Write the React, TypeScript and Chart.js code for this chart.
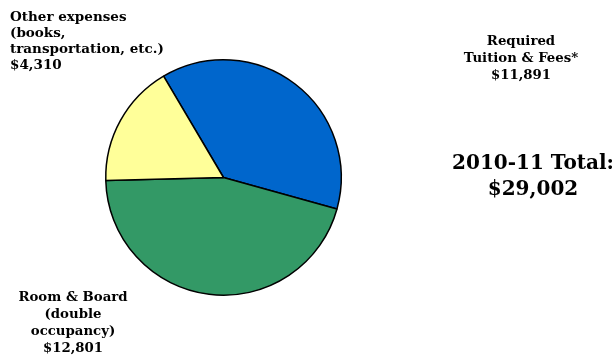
import React, { useEffect, useRef } from "react";
import { Chart, registerables } from "chart.js";

Chart.register(...registerables);

// Slice categories (clockwise from the upper-left boundary)
const categories = ["Required Tuition & Fees*", "Room & Board (double occupancy)", "Other expenses (books, transportation, etc.)"];
// Slice shares as drawn in the picture (percent of circle)
const sliceShares = [37.8, 45.3, 16.9];
// Amounts printed in the labels
const amounts = ["$11,891", "$12,801", "$4,310"];
const totalLabel = ["2010-11 Total:", "$29,002"];
const colors = ["#0066CC", "#339966", "#FFFF99"];

const labelPlugin = {
  id: "costLabels",
  afterDraw(chart: any) {
    const ctx = chart.ctx as CanvasRenderingContext2D;
    ctx.save();
    ctx.fillStyle = "#000";
    ctx.textBaseline = "alphabetic";
    const font = (s: number) => `bold ${s}px "DejaVu Serif", Georgia, serif`;

    // Other expenses (top-left, left aligned)
    ctx.font = font(13.5);
    ctx.textAlign = "left";
    const other = ["Other expenses", "(books,", "transportation, etc.)", amounts[2]];
    other.forEach((t, i) => ctx.fillText(t, 10, 20.5 + i * 16));

    // Tuition (top-right, centered)
    ctx.font = font(13.3);
    ctx.textAlign = "center";
    const tuition = ["Required", "Tuition & Fees*", amounts[0]];
    tuition.forEach((t, i) => ctx.fillText(t, 521, 45 + i * 17));

    // Room & Board (bottom-left, centered)
    ctx.font = font(13.3);
    const room = ["Room & Board", "(double", "occupancy)", amounts[1]];
    room.forEach((t, i) => ctx.fillText(t, 73, 301 + i * 17));

    // Total
    ctx.font = font(20);
    totalLabel.forEach((t, i) => ctx.fillText(t, 533, 169 + i * 26));
    ctx.restore();
  },
};

export default function App() {
  const ref = useRef<HTMLCanvasElement | null>(null);
  useEffect(() => {
    if (!ref.current) return;
    const chart = new Chart(ref.current, {
      type: "pie",
      data: {
        labels: categories,
        datasets: [
          {
            data: sliceShares,
            backgroundColor: colors,
            borderColor: "#000000",
            borderWidth: 1.5,
          },
        ],
      },
      options: {
        responsive: false,
        animation: false,
        rotation: -30.6,
        layout: { padding: { left: 105, top: 59, right: 273, bottom: 61 } },
        plugins: {
          legend: { display: false },
          tooltip: { enabled: false },
        },
      },
      plugins: [labelPlugin],
    });
    return () => chart.destroy();
  }, []);
  return (
    <div style={{ position: "fixed", left: 0, top: 0, width: 615, height: 357, background: "#fff" }}>
      <canvas ref={ref} width={615} height={357} style={{ width: 615, height: 357 }} />
    </div>
  );
}
